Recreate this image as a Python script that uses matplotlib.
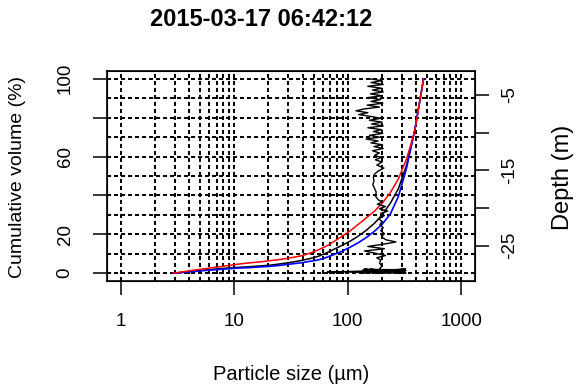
import matplotlib
matplotlib.use("Agg")
import matplotlib.pyplot as plt
from matplotlib.ticker import FixedLocator, NullFormatter

plt.rcParams['font.family'] = ['Liberation Sans', 'DejaVu Sans']

title = "2015-03-17 06:42:12"

# particle size classes (um) and cumulative volume (%) for three casts
sizes = [2.9, 3.4, 4.0, 4.7, 5.5, 6.5, 7.6, 9.0, 10.6, 12.5, 14.7, 17.3, 20.4,
         24, 28.3, 33.3, 39.2, 46.2, 54.4, 64.1, 75.5, 88.9, 105, 123, 145,
         171, 201, 237, 279, 329, 387, 465]
cum_red = [0, 0.6, 1.2, 1.8, 2.3, 2.9, 3.4, 4.0, 4.6, 5.1, 5.5, 5.9, 6.4,
           6.9, 7.5, 8.2, 9.0, 10.3, 11.9, 13.8, 16.3, 19.0, 21.8, 25.0, 28.4,
           31.8, 36.0, 41.5, 48.5, 58.8, 72.5, 100]
cum_blue = [0, 0.3, 0.7, 1.0, 1.4, 1.7, 2.0, 2.3, 2.6, 2.8, 3.0, 3.3, 3.5,
            3.9, 4.4, 4.9, 5.4, 6.1, 6.8, 8.0, 9.6, 11.3, 13.4, 15.6, 18.3,
            21.5, 25.2, 30.5, 39.5, 54.0, 73.0, 100]
cum_black = [0, 0.4, 0.8, 1.2, 1.6, 2.0, 2.4, 2.7, 3.0, 3.2, 3.5, 3.8, 4.1,
             4.6, 5.2, 5.8, 6.6, 7.5, 8.6, 10.3, 12.3, 14.3, 16.5, 19.0, 22.0,
             25.6, 30.0, 36.0, 43.5, 55.5, 73.0, 100]

# median size (um) along the depth profile (m)
prof_depth = [-2.85, -3.1, -3.35, -3.6, -3.85, -4.1, -4.35, -4.6, -4.85, -5.1,
              -5.35, -5.6, -5.85, -6.1, -6.35, -6.6, -6.85, -7.1, -7.35, -7.6,
              -7.85, -8.1, -8.35, -8.6, -8.85, -9.1, -9.35, -9.6, -9.85, -10.1,
              -10.35, -10.6, -10.85, -11.1, -11.35, -11.6, -11.85, -12.1, -12.4,
              -12.7, -13.0, -13.3, -13.6, -13.9, -14.3, -14.7, -15.1, -15.5,
              -15.9, -16.4, -16.9, -17.4, -17.9, -18.4, -18.9, -19.2, -19.5,
              -19.8, -20.1, -20.4, -20.7, -21.0, -21.4, -21.8, -22.2, -22.6,
              -23.0, -23.4, -23.8, -24.2, -24.5, -24.8, -25.1, -25.4, -25.7,
              -26.0, -26.3, -26.6, -26.9, -27.3, -27.7, -28.0, -28.3,
              -28.5, -28.45, -28.55, -28.15, -28.6, -28.3, -28.2, -28.65,
              -28.1, -28.55, -28.6, -28.15, -28.25, -28.65, -28.1, -28.5,
              -28.65, -28.2, -28.15, -28.6, -28.5, -28.1, -28.3, -28.65,
              -28.2, -28.55, -28.4, -28.5]
prof_size = [155, 200, 160, 205, 150, 198, 165, 205, 158, 200,
             150, 195, 160, 203, 148, 190, 140, 118, 150, 125,
             160, 195, 155, 200, 162, 205, 150, 198, 168, 203,
             155, 190, 145, 185, 160, 200, 170, 205, 165,
             190, 172, 195, 175, 200, 180, 208, 185, 172,
             168, 170, 166, 172, 178, 175, 185, 200, 182,
             215, 190, 225, 195, 210, 188, 200, 192, 205,
             195, 210, 198, 215, 265, 205, 150, 210, 140,
             175, 215, 180, 195, 190, 200, 192, 190,
             66, 95, 128, 320, 132, 326, 136, 312,
             140, 322, 145, 305, 150, 325, 158, 300,
             165, 318, 175, 310, 185, 322, 200, 295,
             215, 320, 240, 270]

xticks = [1, 10, 100, 1000]
xgrid = [m * d for d in (1, 10, 100) for m in range(1, 10)] + [1000]
yticks = [0, 20, 40, 60, 80, 100]
ylabels = ["0", "20", "", "60", "", "100"]
dticks = [-25, -20, -15, -10, -5]
dlabels = ["-25", "", "-15", "", "-5"]

fig = plt.figure(figsize=(5.79, 3.91), dpi=100)
ax = fig.add_axes([107 / 579, 1 - 281 / 391, 368 / 579, 210 / 391])

grid_kw = dict(color="black", linewidth=1.4, linestyle=(0, (2.1, 1.5)))
ax.set_xscale("log")
ax.set_xlim(10 ** -0.12, 10 ** 3.12)
ax.set_ylim(-4, 104)
ax.xaxis.set_major_locator(FixedLocator(xticks))
ax.xaxis.set_minor_locator(FixedLocator(xgrid))
ax.xaxis.set_minor_formatter(NullFormatter())
ax.set_xticklabels([str(t) for t in xticks])
ax.yaxis.set_major_locator(FixedLocator(yticks))
ax.yaxis.set_minor_locator(FixedLocator(list(range(10, 100, 20))))
ax.set_yticklabels(ylabels, rotation=90, va="center")
ax.grid(True, which="both", **grid_kw)
ax.set_axisbelow(True)

ax.plot(sizes, cum_black, color="black", linewidth=1.1)
ax.plot(sizes, cum_blue, color="blue", linewidth=1.2)
ax.plot(sizes, cum_red, color="red", linewidth=1.1)

ax.tick_params(which="major", direction="out", length=10, width=1.1,
               labelsize=13.5, colors="black")
ax.tick_params(axis="x", which="major", pad=13)
ax.tick_params(axis="y", which="major", pad=14)
ax.tick_params(which="minor", length=0)
for s in ax.spines.values():
    s.set_linewidth(1.2)

ax2 = ax.twinx()
d_pad = 0.04 * (max(prof_depth) - min(prof_depth))
ax2.set_ylim(min(prof_depth) - d_pad, max(prof_depth) + d_pad)
ax2.plot(prof_size, prof_depth, color="black", linewidth=1.0)
ax2.yaxis.set_major_locator(FixedLocator(dticks))
ax2.set_yticklabels(dlabels, rotation=90, va="center")
ax2.tick_params(direction="out", length=10, width=1.1, labelsize=13.5, pad=9)
ax2.set_xlim(ax.get_xlim())

fig.text(261 / 579, 1 - 20 / 391, title, ha="center", va="center",
         fontsize=17, fontweight="bold")
fig.text(291 / 579, 1 - 374 / 391, "Particle size (\u00b5m)", ha="center",
         va="center", fontsize=14.5)
fig.text(18 / 579, 1 - 177 / 391, "Cumulative volume (%)", ha="center",
         va="center", rotation=90, fontsize=14)
fig.text(563 / 579, 1 - 177 / 391, "Depth (m)", ha="center", va="center",
         rotation=90, fontsize=17)

fig.savefig("out.png", dpi=100)
